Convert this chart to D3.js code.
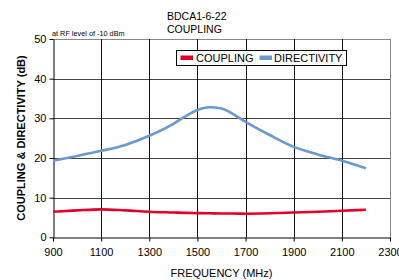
<!DOCTYPE html>
<html><head><meta charset="utf-8">
<script src="https://cdn.jsdelivr.net/npm/d3@7"></script>
<style>body{margin:0;background:#fff}svg{display:block;font-family:"Liberation Sans",Arial,sans-serif}</style>
</head><body>
<script>
const freqs = [900,1000,1100,1200,1300,1400,1450,1500,1550,1600,1650,1700,1800,1900,2000,2100,2200];
const coupling = [6.45,6.8,7.05,6.8,6.45,6.25,6.15,6.1,6.05,6.0,6.0,5.95,6.05,6.25,6.45,6.7,6.95];
const directivity = [19.3,20.5,21.8,23.3,25.6,28.6,30.5,32.1,32.8,32.5,31.0,29.1,25.8,22.8,20.9,19.3,17.4];
const xTicks = [900,1100,1300,1500,1700,1900,2100,2300];
const yTicks = [0,10,20,30,40,50];
const titleLines = ["BDCA1-6-22","COUPLING"];
const seriesNames = ["COUPLING","DIRECTIVITY"];
const colors = ["#e2002b","#6c98d2"];

const W=399,H=280;
const svg=d3.select("body").append("svg").attr("width",W).attr("height",H);
const x=d3.scaleLinear().domain([900,2300]).range([53,390]);
const y=d3.scaleLinear().domain([0,50]).range([237.3,39]);

// horizontal grid
svg.append("g").selectAll("line").data(yTicks.filter(d=>d>0)).join("line")
 .attr("x1",x(900)).attr("x2",x(2300)).attr("y1",d=>Math.round(y(d))+0.5).attr("y2",d=>Math.round(y(d))+0.5)
 .attr("stroke",d=>d===50?"#888":"#444").attr("stroke-width",1);
// vertical grid
svg.append("g").selectAll("line").data(xTicks.filter(d=>d>900)).join("line")
 .attr("y1",y(50)).attr("y2",y(0)).attr("x1",d=>Math.round(x(d))+0.5).attr("x2",d=>Math.round(x(d))+0.5)
 .attr("stroke",d=>d===2300?"#888":"#111").attr("stroke-width",1);

// axes
const yAxis=svg.append("g").attr("transform",`translate(${Math.round(x(900))+0.5},0)`)
 .call(d3.axisLeft(y).tickValues(yTicks).tickFormat(d3.format("d")).tickSize(4).tickPadding(3).tickSizeOuter(0));
const xAxis=svg.append("g").attr("transform",`translate(0,${Math.round(y(0))+0.5})`)
 .call(d3.axisBottom(x).tickValues(xTicks).tickFormat(d3.format("d")).tickSize(4).tickPadding(7).tickSizeOuter(0));
[yAxis,xAxis].forEach(a=>{a.selectAll("path,line").attr("stroke","#000");
 a.selectAll("text").attr("fill","#000").style("font-size","11px").style("font-family",'"Liberation Sans",Arial,sans-serif');});

// lines
const line=d3.line().x((d,i)=>x(freqs[i])).y(d=>y(d)).curve(d3.curveMonotoneX);
[coupling,directivity].forEach((s,k)=>{
 svg.append("path").datum(s).attr("d",line).attr("fill","none").attr("stroke",colors[k]).attr("stroke-width",2.6);
});

// titles
svg.append("g").selectAll("text").data(titleLines).join("text")
 .attr("x",167).attr("y",(d,i)=>19.5+i*13).attr("font-size","10.5px").attr("fill","#000").text(d=>d);
svg.append("text").attr("x",52).attr("y",35.5).attr("font-size","7.3px").attr("fill","#000").text("at RF level of -10 dBm");
svg.append("text").attr("x",221.5).attr("y",277).attr("text-anchor","middle").attr("font-size","11px").attr("fill","#000").text("FREQUENCY (MHz)");
svg.append("text").attr("transform","translate(25,138) rotate(-90)").attr("text-anchor","middle")
 .attr("font-size","11px").attr("font-weight","bold").attr("fill","#000").text("COUPLING & DIRECTIVITY (dB)");

// legend
const lg=svg.append("g");
lg.append("rect").attr("x",176.5).attr("y",50.5).attr("width",170).attr("height",15).attr("fill","#fff").attr("stroke","#000");
const items=[{sx:180.5,tx:196},{sx:259.5,tx:274}];
items.forEach((it,k)=>{
 lg.append("rect").attr("x",it.sx).attr("y",55.5).attr("width",12.5).attr("height",4.5).attr("fill",colors[k]);
 lg.append("text").attr("x",it.tx).attr("y",62).attr("font-size","11px").attr("fill","#000").text(seriesNames[k]);
});
</script>
</body></html>
